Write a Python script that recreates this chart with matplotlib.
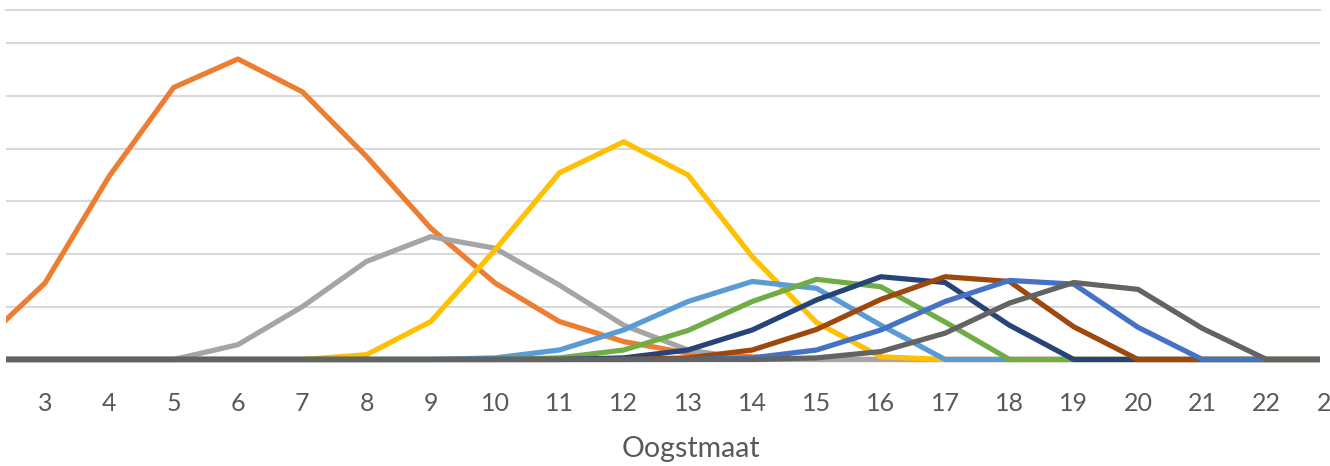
import numpy as np
import matplotlib
matplotlib.use('Agg')
import matplotlib.pyplot as plt
from matplotlib.transforms import blended_transform_factory

plt.rcParams['font.family'] = ['Lato', 'DejaVu Sans']

# categories on the x axis (oogstmaat)
sizes = list(range(2, 24))
size_labels = list(range(3, 24))

# one curve per planting (grid steps)
orange = [0.30, 1.45, 3.48, 5.16, 5.70, 5.08, 3.85, 2.49, 1.45, 0.72, 0.34, 0.12, 0.05,
          0, 0, 0, 0, 0, 0, 0, 0, 0]
grey = [0, 0, 0, 0, 0.28, 1.00, 1.86, 2.33, 2.11, 1.41, 0.65, 0.18,
        0, 0, 0, 0, 0, 0, 0, 0, 0, 0]
yellow = [0, 0, 0, 0, 0, 0, 0.09, 0.72, 2.08, 3.54, 4.13, 3.50, 1.95, 0.70, 0.05,
          0, 0, 0, 0, 0, 0, 0]
lightblue = [0, 0, 0, 0, 0, 0, 0, 0, 0.03, 0.18, 0.56, 1.10, 1.48, 1.35, 0.65,
             0, 0, 0, 0, 0, 0, 0]
green = [0, 0, 0, 0, 0, 0, 0, 0, 0, 0.03, 0.18, 0.55, 1.10, 1.52, 1.38, 0.71,
         0, 0, 0, 0, 0, 0]
darkblue = [0, 0, 0, 0, 0, 0, 0, 0, 0, 0, 0.03, 0.18, 0.56, 1.13, 1.57, 1.46, 0.65,
            0, 0, 0, 0, 0]
brown = [0, 0, 0, 0, 0, 0, 0, 0, 0, 0, 0, 0.03, 0.18, 0.57, 1.14, 1.57, 1.48, 0.62,
         0, 0, 0, 0]
blue = [0, 0, 0, 0, 0, 0, 0, 0, 0, 0, 0, 0, 0.03, 0.18, 0.56, 1.10, 1.50, 1.43, 0.61,
        0, 0, 0]
darkgrey = [0, 0, 0, 0, 0, 0, 0, 0, 0, 0, 0, 0, 0, 0.03, 0.15, 0.50, 1.07, 1.46, 1.33, 0.59,
            0, 0]

series = [orange, grey, yellow, lightblue, green, darkblue, brown, blue, darkgrey]
colors = ['#ED7D31', '#A5A5A5', '#FFC000', '#5B9BD5', '#70AD47',
          '#264478', '#9E480E', '#4472C4', '#636363']

W, H = 1330, 466
fig = plt.figure(figsize=(W / 100, H / 100), dpi=100)

# plot area in pixels: x 6..1320, y 10..365.8
ax_left, ax_right, ax_top, ax_bottom = 6, 1320, 10, 365.8
ax = fig.add_axes([ax_left / W, 1 - ax_bottom / H, (ax_right - ax_left) / W, (ax_bottom - ax_top) / H])

for values, color in zip(series, colors):
    ax.plot(sizes, values, color=color, linewidth=3.75,
            solid_joinstyle='round', solid_capstyle='round')

ax.set_xlim(2.393, 22.83)
ax.set_ylim(-0.12, 6.63)

ax.set_yticks(range(1, 7))
ax.yaxis.grid(True, color='#D9D9D9', linewidth=1.5)
ax.set_axisbelow(True)
ax.tick_params(left=False, bottom=False, labelleft=False, labelbottom=False)
for name, spine in ax.spines.items():
    spine.set_visible(name == 'top')
ax.spines['top'].set_color('#D9D9D9')
ax.spines['top'].set_linewidth(1.5)

# category labels below the plot area, baseline at y=410.7 px
trans = blended_transform_factory(ax.transData, fig.transFigure)
for size in size_labels:
    ax.text(size, 1 - 410.7 / H, str(size), transform=trans, ha='center', va='baseline',
            fontsize=18, color='#595959', clip_on=False)

fig.text(691 / W, 1 - 457.3 / H, 'Oogstmaat', ha='center', va='baseline',
         fontsize=20.5, color='#595959')

fig.savefig('out.png', dpi=100)
